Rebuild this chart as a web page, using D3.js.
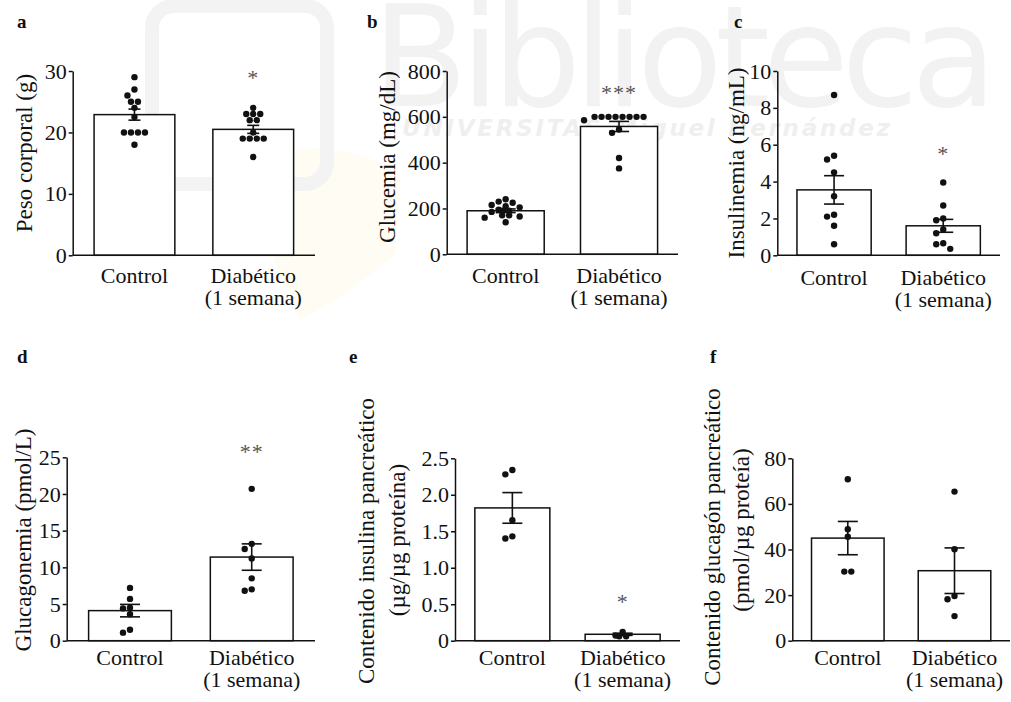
<!DOCTYPE html>
<html>
<head>
<meta charset="utf-8">
<script src="https://cdn.jsdelivr.net/npm/d3@7.9.0/dist/d3.min.js"></script>
<style>
  body { margin: 0; background: #fff; }
</style>
</head>
<body>
<svg id="fig" width="1011" height="702"></svg>
<script>
// groups on the x axis
const categories = ["Control", "Diabético"];
const categoryLines = [["Control"], ["Diabético", "(1 semana)"]];

// a - body weight (g)
const pesoControl = [29, 27, 26, 25, 25, 24, 22.5, 20, 20, 20, 20, 18];
const pesoDiab = [24, 23, 23, 23, 22, 22, 20, 19, 19, 19, 19, 16];
const pesoMean = [22.9, 20.5];
const pesoSem = [0.9, 0.65];

// b - glycaemia (mg/dL)
const glucControl = [240, 230, 225, 215, 210, 205, 195, 190, 190, 185, 170, 170, 165, 160, 140];
const glucDiab = [600, 600, 600, 600, 600, 600, 600, 600, 585, 545, 530, 420, 375];
const glucMean = [190, 558];
const glucSem = [8, 22];

// c - insulinaemia (ng/mL)
const insControl = [8.7, 5.4, 5.2, 4.5, 3.2, 2.2, 2.1, 1.6, 0.6];
const insDiab = [3.95, 2.7, 2.0, 1.9, 1.4, 1.2, 0.65, 0.6, 0.35];
const insMean = [3.55, 1.6];
const insSem = [0.77, 0.35];

// d - glucagonaemia (pmol/L)
const glcgControl = [7.2, 5.7, 4.5, 4.4, 3.6, 1.5, 1.1];
const glcgDiab = [20.7, 13.2, 12.5, 11.2, 8.5, 7.0, 6.8];
const glcgMean = [4.1, 11.4];
const glcgSem = [0.85, 1.8];

// e - pancreatic insulin content
const pancInsControl = [2.34, 2.28, 1.65, 1.43, 1.40];
const pancInsDiab = [0.12, 0.07, 0.06, 0.06];
const pancInsMean = [1.82, 0.088];
const pancInsSem = [0.21, 0.015];

// f - pancreatic glucagon content
const pancGlcControl = [70.8, 48.9, 45.6, 30.3, 30.3];
const pancGlcDiab = [65.4, 40.1, 19.6, 18.2, 10.8];
const pancGlcMean = [45, 30.7];
const pancGlcSem = [7.3, 10];

// significance marks and the data level they sit at
const pesoStars = ["", "*"], pesoStarAt = 29.5;
const glucStars = ["", "***"], glucStarAt = 720;
const insStars = ["", "*"], insStarAt = 5.7;
const glcgStars = ["", "**"], glcgStarAt = 26.2;
const pancInsStars = ["", "*"], pancInsStarAt = 0.58;
const pancGlcStars = ["", ""], pancGlcStarAt = 0;

const panels = [
  { letter: "a", lx: 17, ly: 28, x0: 72.7, x1: 315, y0: 255.3, y1: 71, max: 30, ticks: [0, 10, 20, 30],
    pts: [pesoControl, pesoDiab], mean: pesoMean, sem: pesoSem, stars: pesoStars, starAt: pesoStarAt,
    label: ["Peso corporal (g)"], labelPos: [[24, 153]], capW: 12, xDy: 28 },
  { letter: "b", lx: 367, ly: 28, x0: 446.7, x1: 678, y0: 254.3, y1: 71, max: 800, ticks: [0, 200, 400, 600, 800],
    pts: [glucControl, glucDiab], mean: glucMean, sem: glucSem, stars: glucStars, starAt: glucStarAt,
    label: ["Glucemia (mg/dL)"], labelPos: [[387, 157]], capW: 20, xDy: 29 },
  { letter: "c", lx: 734, ly: 28, x0: 777.3, x1: 1000, y0: 255.3, y1: 71, max: 10, ticks: [0, 2, 4, 6, 8, 10],
    pts: [insControl, insDiab], mean: insMean, sem: insSem, stars: insStars, starAt: insStarAt,
    label: ["Insulinemia (ng/mL)"], labelPos: [[736, 163]], capW: 20, xDy: 30 },
  { letter: "d", lx: 17, ly: 363, x0: 66.7, x1: 315, y0: 640.7, y1: 457.3, max: 25, ticks: [0, 5, 10, 15, 20, 25],
    pts: [glcgControl, glcgDiab], mean: glcgMean, sem: glcgSem, stars: glcgStars, starAt: glcgStarAt,
    label: ["Glucagonemia (pmol/L)"], labelPos: [[23, 540]], capW: 20, xDy: 24.5 },
  { letter: "e", lx: 349, ly: 363, x0: 455, x1: 680, y0: 640.7, y1: 458.3, max: 2.5, ticks: [0, 0.5, 1, 1.5, 2, 2.5],
    pts: [pancInsControl, pancInsDiab], mean: pancInsMean, sem: pancInsSem, stars: pancInsStars, starAt: pancInsStarAt,
    label: ["Contenido insulina pancreático", "(µg/µg proteína)"], labelPos: [[366, 541], [397, 540]], capW: 20, xDy: 24.5,
    fmt: d => d === 0 ? "0" : d3.format(".1f")(d) },
  { letter: "f", lx: 710, ly: 363, x0: 792.3, x1: 1010, y0: 640.7, y1: 458.3, max: 80, ticks: [0, 20, 40, 60, 80],
    pts: [pancGlcControl, pancGlcDiab], mean: pancGlcMean, sem: pancGlcSem, stars: pancGlcStars, starAt: pancGlcStarAt,
    label: ["Contenido glucagón pancreático", "(pmol/µg proteía)"], labelPos: [[712, 537], [741, 530]], capW: 20, xDy: 24.5 }
];

const svg = d3.select("#fig");
const ink = "#111";
const serif = "'Liberation Serif', 'DejaVu Serif', serif";
const dotR = 3.2;

// faint library watermark behind the figure
const wm = svg.append("g").attr("class", "watermark");
wm.append("path")
  .attr("d", "M250,160 Q330,130 400,175 L395,255 Q340,300 300,320 Q260,240 250,160 Z")
  .attr("fill", "#fffcf4");
wm.append("rect")
  .attr("x", 152).attr("y", 6).attr("width", 175).attr("height", 178).attr("rx", 22)
  .attr("fill", "none").attr("stroke", "#f3f3f3").attr("stroke-width", 14);
wm.append("text")
  .attr("x", 372).attr("y", 106)
  .attr("font-family", "'DejaVu Sans', sans-serif").attr("font-size", 140)
  .attr("fill", "#f2f2f2").attr("textLength", 625)
  .text("Biblioteca");
wm.append("text")
  .attr("x", 402).attr("y", 136)
  .attr("font-family", "'DejaVu Sans', sans-serif").attr("font-size", 23).attr("font-weight", "bold")
  .attr("font-style", "italic").attr("fill", "#efefef").attr("textLength", 488)
  .text("UNIVERSITAS Miguel Hernández");

// spread points sideways so they do not overlap
function swarm(values, y, cx) {
  const sorted = values.slice().sort((a, b) => b - a);
  const placed = [];
  const step = 2 * dotR + 0.6;
  let i = 0;
  while (i < sorted.length) {
    let n = 1;
    while (i + n < sorted.length && sorted[i + n] === sorted[i]) n++;
    const py = y(sorted[i]);
    if (n > 1) {
      for (let k = 0; k < n; k++) placed.push({ x: cx + (k - (n - 1) / 2) * step, y: py });
    } else {
      for (let k = 0; k < 20; k++) {
        const off = (k % 2 === 0 ? 1 : -1) * Math.ceil(k / 2) * step;
        const ok = placed.every(p => Math.hypot(p.x - (cx + off), p.y - py) >= 2 * dotR);
        if (ok) { placed.push({ x: cx + off, y: py }); break; }
      }
    }
    i += n;
  }
  return placed;
}

panels.forEach(p => {
  const g = svg.append("g").attr("font-family", serif);
  const y = d3.scaleLinear().domain([0, p.max]).range([p.y0, p.y1]);
  const x = d3.scaleBand().domain(categories).range([p.x0, p.x1])
    .paddingInner(0.32).paddingOuter(0.18);

  // panel letter
  g.append("text").attr("x", p.lx).attr("y", p.ly).attr("font-family", serif)
    .attr("font-size", 19).attr("font-weight", "bold").attr("fill", ink).text(p.letter);

  // bars
  g.selectAll("rect.bar").data(categories).join("rect")
    .attr("class", "bar")
    .attr("x", d => x(d)).attr("width", x.bandwidth())
    .attr("y", (d, i) => y(p.mean[i]))
    .attr("height", (d, i) => p.y0 - y(p.mean[i]))
    .attr("fill", "#fff").attr("stroke", ink).attr("stroke-width", 1.5);

  categories.forEach((c, i) => {
    const cx = x(c) + x.bandwidth() / 2;
    const hi = y(p.mean[i] + p.sem[i]), lo = y(p.mean[i] - p.sem[i]);

    // error bars
    const eb = g.append("g").attr("stroke", ink).attr("stroke-width", 1.6);
    eb.append("line").attr("x1", cx).attr("x2", cx).attr("y1", hi).attr("y2", lo);
    eb.append("line").attr("x1", cx - p.capW / 2).attr("x2", cx + p.capW / 2).attr("y1", hi).attr("y2", hi);
    eb.append("line").attr("x1", cx - p.capW / 2).attr("x2", cx + p.capW / 2).attr("y1", lo).attr("y2", lo);

    // individual animals
    g.selectAll(null).data(swarm(p.pts[i], y, cx)).join("circle")
      .attr("cx", d => d.x).attr("cy", d => d.y).attr("r", dotR).attr("fill", ink);

    // significance
    if (p.stars[i]) {
      g.append("text").attr("x", cx).attr("y", y(p.starAt) + 11).attr("font-family", serif)
        .attr("text-anchor", "middle").attr("font-size", 22).attr("fill", "#555")
        .attr("letter-spacing", 1)
        .text(p.stars[i]);
    }

    // category label
    const t = g.append("text").attr("x", cx).attr("y", p.y0 + p.xDy).attr("font-family", serif)
      .attr("text-anchor", "middle").attr("font-size", 22).attr("fill", ink);
    categoryLines[i].forEach((line, k) => {
      t.append("tspan").attr("x", cx).attr("dy", k === 0 ? 0 : 21.5).text(line);
    });
  });

  // x axis line
  g.append("line").attr("x1", p.x0).attr("x2", p.x1).attr("y1", p.y0).attr("y2", p.y0)
    .attr("stroke", ink).attr("stroke-width", 1.5);

  // y axis
  const ax = g.append("g").attr("transform", `translate(${p.x0},0)`)
    .call(d3.axisLeft(y).tickValues(p.ticks).tickSize(4).tickSizeOuter(0).tickPadding(2)
      .tickFormat(p.fmt || (d => d)));
  ax.attr("font-family", serif);
  ax.select(".domain").attr("stroke", ink).attr("stroke-width", 1.5);
  ax.selectAll(".tick line").attr("stroke", ink).attr("stroke-width", 1.5);
  ax.selectAll(".tick text").attr("font-size", 22).attr("fill", ink).attr("font-family", serif);

  // y label
  p.label.forEach((line, k) => {
    const [lx, ly] = p.labelPos[k];
    g.append("text").attr("transform", `translate(${lx},${ly}) rotate(-90)`).attr("font-family", serif)
      .attr("text-anchor", "middle").attr("dy", "0.35em")
      .attr("font-size", 23).attr("fill", ink).text(line);
  });
});
</script>
</body>
</html>
